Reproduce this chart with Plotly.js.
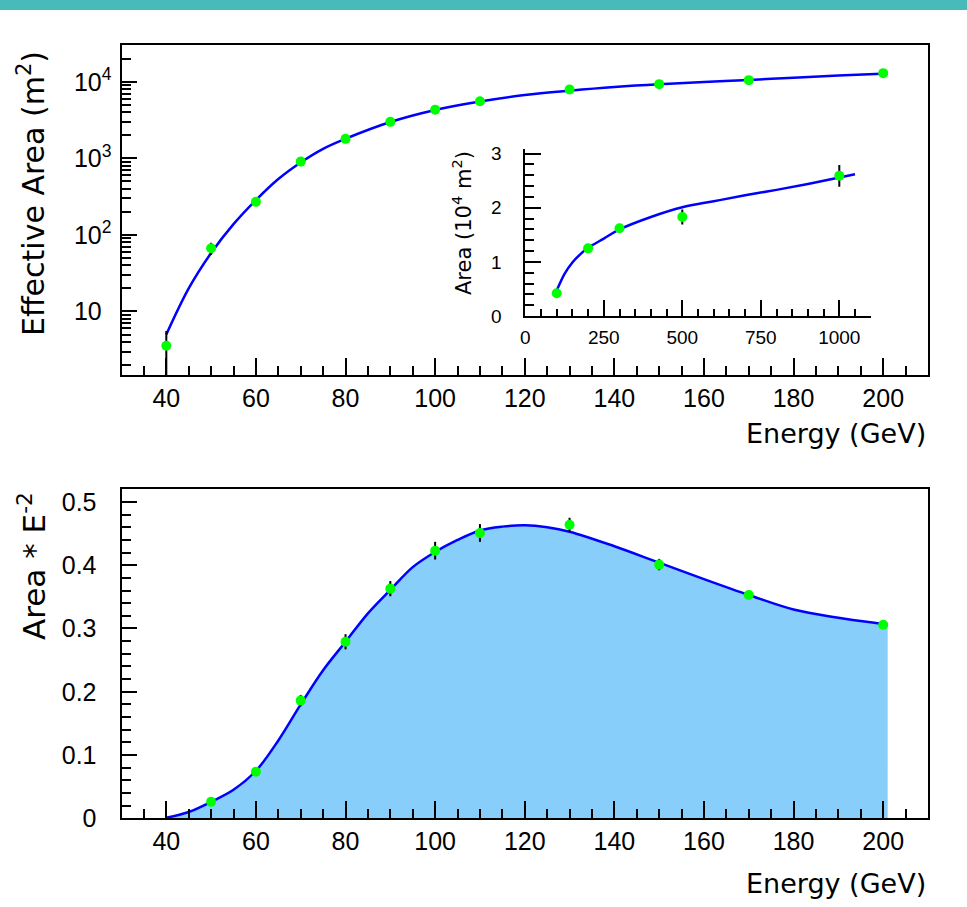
<!DOCTYPE html>
<html>
<head>
<meta charset="utf-8">
<script src="https://cdn.plot.ly/plotly-3.0.1.min.js"></script>
<style>html,body{margin:0;padding:0;background:#fff;}#chart{width:967px;height:907px;}</style>
</head>
<body>
<div id="chart"></div>
<script>
// ---- data ----
// Top panel: effective area (m^2) vs energy (GeV)
const energyPts = [40, 50, 60, 70, 80, 90, 100, 110, 130, 150, 170, 200];
const areaPts = [3.56, 67, 270, 906, 1795, 2995, 4300, 5560, 7910, 9310, 10490, 12950];
const areaErrPlus = [2.0, 12, 15, 30, 50, 80, 140, 170, 180, 200, 200, 250];
const areaErrMinus = [2.6, 12, 15, 30, 50, 80, 140, 170, 180, 200, 200, 250];
const fitE = [40, 45, 50, 55, 60, 65, 70, 75, 80, 90, 100, 110, 120, 130, 140, 150, 160, 170, 180, 190, 201];
const fitArea = [5.0, 20, 58, 138, 285, 537, 883, 1330, 1800, 2980, 4280, 5520, 6700, 7650, 8550, 9300, 9900, 10550, 11300, 12050, 12830];

// Inset: area (10^4 m^2) vs energy up to 1 TeV
const insetE = [100, 200, 300, 500, 1000];
const insetArea = [0.42, 1.25, 1.62, 1.83, 2.59];
const insetErr = [0.03, 0.04, 0.04, 0.14, 0.20];
const insetFitE = [100, 125, 150, 175, 200, 250, 300, 400, 500, 600, 700, 800, 900, 1000, 1050];
const insetFitArea = [0.47, 0.78, 0.99, 1.14, 1.26, 1.43, 1.60, 1.83, 2.01, 2.12, 2.23, 2.33, 2.44, 2.56, 2.62];

// Bottom panel: Area * E^-2
const weightedE = [50, 60, 70, 80, 90, 100, 110, 130, 150, 170, 200];
const weightedVal = [0.026, 0.0736, 0.186, 0.279, 0.363, 0.423, 0.451, 0.464, 0.401, 0.353, 0.306];
const weightedErr = [0.003, 0.005, 0.009, 0.012, 0.012, 0.014, 0.014, 0.011, 0.009, 0.006, 0.004];
const wFitE = [40, 45, 50, 55, 60, 65, 70, 75, 80, 85, 90, 95, 100, 105, 110, 115, 120, 125, 130, 140, 150, 160, 170, 180, 190, 200, 201];
const wFitVal = [0.001, 0.010, 0.026, 0.045, 0.075, 0.123, 0.180, 0.234, 0.279, 0.324, 0.361, 0.397, 0.421, 0.440, 0.455, 0.461, 0.463, 0.460, 0.453, 0.430, 0.404, 0.378, 0.353, 0.330, 0.317, 0.307, 0.306];

// tick labels
const logTickVals = [10, 100, 1000, 10000];
const logTickText = ['10<sup>\u2007</sup>', '10<sup>2</sup>', '10<sup>3</sup>', '10<sup>4</sup>'];
const logMinorVals = [2,3,4,5,6,7,8,9,20,30,40,50,60,70,80,90,200,300,400,500,600,700,800,900,2000,3000,4000,5000,6000,7000,8000,9000,20000];

// ---- styles ----
const BLUE = '#0000ff', GREEN = '#00ff00', FILL = '#87cefa';
const tickFont = {family: 'Liberation Sans, Arial, sans-serif', size: 25, color: '#000'};
const insetTickFont = {family: 'Liberation Sans, Arial, sans-serif', size: 19, color: '#000'};
const titleFamily = 'DejaVu Sans, sans-serif';

const traces = [
  {x: fitE, y: fitArea, xaxis: 'x', yaxis: 'y', mode: 'lines', line: {color: BLUE, width: 2.5, shape: 'spline'}, hoverinfo: 'skip'},
  {x: energyPts, y: areaPts, xaxis: 'x', yaxis: 'y', mode: 'markers',
   marker: {color: GREEN, size: 10},
   error_y: {type: 'data', symmetric: false, array: areaErrPlus, arrayminus: areaErrMinus, color: '#000', thickness: 2, width: 0}},
  {x: insetFitE, y: insetFitArea, xaxis: 'x3', yaxis: 'y3', mode: 'lines', line: {color: BLUE, width: 2.5, shape: 'spline'}},
  {x: insetE, y: insetArea, xaxis: 'x3', yaxis: 'y3', mode: 'markers',
   marker: {color: GREEN, size: 10},
   error_y: {type: 'data', array: insetErr, color: '#000', thickness: 2, width: 0}},
  {x: wFitE, y: wFitVal, xaxis: 'x2', yaxis: 'y2', mode: 'lines', fill: 'tozeroy', fillcolor: FILL,
   line: {color: BLUE, width: 2.5, shape: 'spline'}},
  {x: weightedE, y: weightedVal, xaxis: 'x2', yaxis: 'y2', mode: 'markers',
   marker: {color: GREEN, size: 10},
   error_y: {type: 'data', array: weightedErr, color: '#000', thickness: 2, width: 0}}
];

const W = 967, H = 907;
const px = v => v / W, py = v => 1 - v / H;

const mainX = (anchor) => ({
  domain: [px(121.5), px(928)], anchor: anchor, range: [30, 210],
  tickmode: 'linear', tick0: 0, dtick: 20, ticks: 'inside', ticklen: 17, tickwidth: 2, tickcolor: '#000',
  minor: {tickmode: 'linear', tick0: 0, dtick: 5, ticks: 'inside', ticklen: 9, tickwidth: 2, tickcolor: '#000'},
  showline: true, mirror: true, linewidth: 2, linecolor: '#000',
  showgrid: false, zeroline: false, tickfont: tickFont, ticklabelstandoff: 0
});

const layout = {
  width: W, height: H, margin: {l: 0, r: 0, t: 0, b: 0},
  paper_bgcolor: '#fff', plot_bgcolor: 'rgba(0,0,0,0)', showlegend: false,
  xaxis: mainX('y'),
  yaxis: {
    domain: [py(375), py(45)], anchor: 'x', type: 'log', range: [Math.log10(1.48), 4.48],
    tickmode: 'array', tickvals: logTickVals, ticktext: logTickText,
    ticks: 'inside', ticklen: 15, tickwidth: 2, tickcolor: '#000',
    minor: {tickmode: 'array', tickvals: logMinorVals, ticks: 'inside', ticklen: 9, tickwidth: 2, tickcolor: '#000'},
    showline: true, mirror: true, linewidth: 2, linecolor: '#000',
    showgrid: false, zeroline: false, tickfont: tickFont, ticklabelstandoff: 3
  },
  xaxis2: mainX('y2'),
  yaxis2: {
    domain: [py(818.3), py(489.3)], anchor: 'x2', range: [0, 0.52],
    tickmode: 'linear', tick0: 0, dtick: 0.1, ticks: 'inside', ticklen: 15, tickwidth: 2, tickcolor: '#000',
    minor: {tickmode: 'linear', tick0: 0, dtick: 0.02, ticks: 'inside', ticklen: 9, tickwidth: 2, tickcolor: '#000'},
    showline: true, mirror: true, linewidth: 2, linecolor: '#000',
    showgrid: false, zeroline: false, tickfont: tickFont, ticklabelstandoff: 18
  },
  xaxis3: {
    domain: [px(525.3), px(870.7)], anchor: 'y3', range: [0, 1100],
    tickmode: 'linear', tick0: 0, dtick: 250, ticks: 'inside', ticklen: 16, tickwidth: 2, tickcolor: '#000',
    minor: {tickmode: 'linear', tick0: 0, dtick: 50, ticks: 'inside', ticklen: 7, tickwidth: 2, tickcolor: '#000'},
    showline: true, mirror: false, linewidth: 2, linecolor: '#000',
    showgrid: false, zeroline: false, tickfont: insetTickFont, ticklabelstandoff: 3
  },
  yaxis3: {
    domain: [py(316), py(149.3)], anchor: 'x3', range: [0, 3.08],
    tickmode: 'linear', tick0: 0, dtick: 1, ticks: 'inside', ticklen: 16, tickwidth: 2, tickcolor: '#000',
    minor: {tickmode: 'linear', tick0: 0, dtick: 0.2, ticks: 'inside', ticklen: 9, tickwidth: 2, tickcolor: '#000'},
    showline: true, mirror: false, linewidth: 2, linecolor: '#000',
    showgrid: false, zeroline: false, tickfont: insetTickFont, ticklabelstandoff: 18
  },
  shapes: [
    {type: 'rect', xref: 'paper', yref: 'paper', x0: 0, x1: 1, y0: py(10), y1: 1, fillcolor: '#47baba', line: {width: 0}, layer: 'above'}
  ],
  annotations: [
    {text: 'Effective Area (m<sup>2</sup>)', xref: 'paper', yref: 'paper', x: px(31), y: py(194), xanchor: 'center', yanchor: 'middle',
     textangle: -90, showarrow: false, font: {family: titleFamily, size: 30, color: '#000'}},
    {text: 'Area (10<sup>4</sup> m<sup>2</sup>)', xref: 'paper', yref: 'paper', x: px(462), y: py(223), xanchor: 'center', yanchor: 'middle',
     textangle: -90, showarrow: false, font: {family: titleFamily, size: 21, color: '#000'}},
    {text: 'Energy (GeV)', xref: 'paper', yref: 'paper', x: px(928), y: py(434), xanchor: 'right', yanchor: 'middle',
     showarrow: false, font: {family: titleFamily, size: 27, color: '#000'}},
    {text: 'Area * E<sup>-2</sup>', xref: 'paper', yref: 'paper', x: px(32), y: py(566), xanchor: 'center', yanchor: 'middle',
     textangle: -90, showarrow: false, font: {family: titleFamily, size: 31, color: '#000'}},
    {text: 'Energy (GeV)', xref: 'paper', yref: 'paper', x: px(928), y: py(883), xanchor: 'right', yanchor: 'middle',
     showarrow: false, font: {family: titleFamily, size: 27, color: '#000'}}
  ]
};

Plotly.newPlot('chart', traces, layout, {displayModeBar: false, staticPlot: true});
</script>
</body>
</html>
